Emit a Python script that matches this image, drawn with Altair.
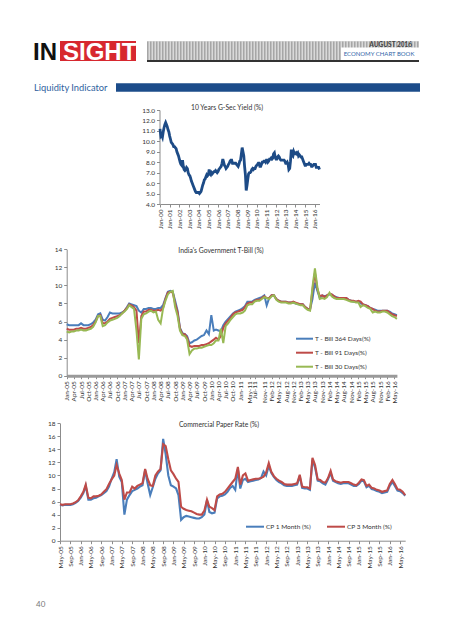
import altair as alt
import pandas as pd

# ------------------------------------------------------------------ data
# 10 Years G-Sec Yield (%), monthly, Jan-2000 .. Jul-2016
gsec_values = [
    11.2, 10.5, 10.6, 10.4, 10.9, 11.3, 11.6, 11.8, 11.6, 11.4, 11.1, 10.9,
    10.5, 10.2, 9.9, 9.8, 9.7, 9.5, 9.5, 9.4, 9.3, 9.0, 8.8, 8.6,
    8.3, 8.0, 7.8, 7.7, 8.2, 7.6, 7.3, 7.2, 7.3, 7.5, 7.4, 7.0,
    6.8, 6.7, 6.5, 6.2, 6.0, 5.8, 5.6, 5.4, 5.2, 5.1, 5.1, 5.1,
    5.1, 5.0, 5.1, 5.2, 5.5, 5.8, 6.0, 6.3, 6.4, 6.6, 6.8, 6.7,
    6.8, 7.3, 6.9, 6.8, 7.0, 6.9, 7.0, 7.1, 7.1, 7.2, 7.1, 7.0,
    7.1, 7.3, 7.4, 7.5, 7.6, 7.9, 8.3, 8.0, 7.7, 7.6, 7.4, 7.5,
    7.6, 7.8, 7.9, 8.1, 8.2, 8.2, 7.9, 7.9, 7.9, 7.9, 7.9, 7.8,
    7.7, 7.6, 7.8, 8.1, 8.2, 8.8, 9.4, 9.0, 8.6, 7.6, 6.8, 5.3,
    5.8, 6.4, 6.9, 7.0, 7.0, 7.1, 7.3, 7.4, 7.3, 7.4, 7.4, 7.6,
    7.7, 7.8, 7.9, 7.9, 7.6, 7.6, 7.8, 8.0, 8.0, 8.1, 8.1, 8.0,
    8.2, 8.2, 8.0, 8.1, 8.3, 8.3, 8.4, 8.3, 8.4, 8.8, 8.9, 8.5,
    8.3, 8.3, 8.5, 8.6, 8.5, 8.3, 8.2, 8.2, 8.2, 8.2, 8.2, 8.1,
    7.9, 7.9, 8.0, 7.8, 7.3, 7.4, 8.1, 9.2, 8.7, 8.6, 9.0, 8.8,
    8.8, 8.9, 8.8, 8.9, 8.6, 8.7, 8.6, 8.5, 8.5, 8.3, 8.1, 7.9,
    7.7, 7.7, 7.8, 7.8, 7.8, 7.9, 7.8, 7.8, 7.6, 7.6, 7.7, 7.8,
    7.8, 7.8, 7.5, 7.5, 7.5, 7.5, 7.3,
]
gsec_ticks = ["Jan-00", "Jan-01", "Jan-02", "Jan-03", "Jan-04", "Jan-05",
              "Jan-06", "Jan-07", "Jan-08", "Jan-09", "Jan-10", "Jan-11",
              "Jan-12", "Jan-13", "Jan-14", "Jan-15", "Jan-16"]

# India's Government T-Bill (%), monthly, Jan-2005 .. Jun-2016
tbill_names = ["T - Bill 364 Days(%)", "T - Bill 91 Days(%)", "T - Bill 30 Days(%)"]
tbill_364 = [
    5.7, 5.6, 5.6, 5.6, 5.6, 5.6, 5.8, 5.6, 5.6, 5.6, 5.7, 5.9,
    6.2, 6.8, 6.9, 6.2, 6.1, 6.5, 7.0, 6.9, 6.9, 6.9, 6.9, 7.0,
    7.2, 7.6, 8.0, 7.9, 7.8, 7.7, 7.2, 7.0, 7.4, 7.4, 7.5, 7.5,
    7.4, 7.4, 7.5, 7.5, 7.8, 8.6, 9.3, 9.4, 9.3, 8.3, 7.2, 5.3,
    4.7, 4.6, 4.4, 3.6, 3.7, 3.9, 4.0, 4.2, 4.4, 4.5, 5.0, 4.6,
    6.7, 5.0, 5.1, 5.0, 4.9, 5.6, 6.0, 6.3, 6.6, 6.9, 7.1, 7.2,
    7.3, 7.5, 7.7, 8.2, 8.2, 8.2, 8.4, 8.5, 8.6, 8.7, 8.9, 7.8,
    8.6, 8.9, 8.9, 8.5, 8.3, 8.2, 8.2, 8.2, 8.1, 8.1, 8.1, 8.0,
    7.9, 7.9, 7.9, 7.6, 7.4, 7.4, 8.5, 10.3, 9.4, 8.6, 8.9, 8.8,
    8.9, 9.0, 9.0, 8.8, 8.7, 8.6, 8.6, 8.6, 8.6, 8.4, 8.3, 8.2,
    8.2, 8.2, 8.0, 7.9, 7.8, 7.7, 7.5, 7.4, 7.3, 7.2, 7.2, 7.2,
    7.2, 7.2, 7.1, 6.9, 6.8, 6.7,
]
tbill_91 = [
    5.2, 5.1, 5.1, 5.1, 5.2, 5.2, 5.3, 5.2, 5.2, 5.3, 5.4, 5.6,
    6.0, 6.6, 6.7, 5.8, 5.8, 6.0, 6.3, 6.4, 6.5, 6.6, 6.7, 6.9,
    7.2, 7.5, 7.9, 7.8, 7.6, 7.2, 3.6, 6.6, 7.1, 7.1, 7.3, 7.3,
    7.2, 7.2, 7.3, 7.2, 7.5, 8.5, 9.2, 9.3, 9.2, 8.0, 7.0, 5.2,
    4.6, 4.6, 4.2, 3.3, 3.2, 3.3, 3.3, 3.3, 3.4, 3.4, 3.5, 3.6,
    3.8, 4.0, 4.2, 4.0, 4.4, 5.3, 5.8, 6.1, 6.4, 6.8, 7.0, 7.1,
    7.2, 7.3, 7.6, 8.0, 8.1, 8.1, 8.3, 8.4, 8.4, 8.6, 8.8, 8.6,
    8.6, 8.9, 8.9, 8.5, 8.3, 8.2, 8.2, 8.2, 8.1, 8.1, 8.2, 8.1,
    8.0, 7.9, 7.9, 7.6, 7.4, 7.3, 9.5, 11.4, 9.6, 8.8, 8.9, 8.7,
    8.9, 9.1, 9.0, 8.8, 8.6, 8.6, 8.6, 8.6, 8.6, 8.4, 8.3, 8.3,
    8.2, 8.3, 8.2, 7.9, 7.8, 7.7, 7.5, 7.4, 7.2, 7.1, 7.1, 7.2,
    7.2, 7.2, 7.0, 6.8, 6.7, 6.6,
]
tbill_30 = [
    4.9, 4.8, 4.9, 4.9, 5.0, 5.0, 5.1, 5.0, 5.0, 5.1, 5.2, 5.4,
    5.9, 6.6, 6.6, 5.5, 5.6, 5.9, 6.1, 6.2, 6.3, 6.4, 6.6, 6.9,
    7.1, 7.4, 7.8, 7.6, 7.4, 5.0, 1.8, 6.3, 6.8, 6.9, 7.1, 7.2,
    7.0, 7.1, 6.2, 5.8, 7.4, 8.3, 9.0, 9.3, 9.4, 7.6, 6.6, 5.0,
    4.5, 4.4, 4.0, 2.4, 2.8, 3.0, 3.0, 3.1, 3.1, 3.2, 3.3, 3.4,
    3.4, 3.6, 3.9, 3.9, 5.2, 3.6, 5.5, 5.8, 6.2, 6.5, 6.8, 6.9,
    6.9, 7.0, 7.2, 7.8, 7.9, 7.9, 8.2, 8.3, 8.3, 8.5, 8.7, 8.6,
    8.5, 8.8, 8.9, 8.4, 8.2, 8.1, 8.1, 8.1, 8.0, 8.0, 8.1, 8.0,
    7.9, 7.8, 7.8, 7.5, 7.3, 7.2, 9.8, 11.9, 9.8, 8.5, 8.6, 8.5,
    8.7, 9.2, 8.8, 8.6, 8.5, 8.5, 8.5, 8.5, 8.4, 8.3, 8.2, 8.2,
    8.1, 8.1, 7.6, 7.8, 7.7, 7.5, 7.4, 7.0, 7.1, 7.0, 7.0, 7.1,
    7.1, 7.0, 6.8, 6.6, 6.5, 6.3,
]
tbill_ticks = ["Jan-05", "Apr-05", "Jul-05", "Oct-05", "Jan-06", "Apr-06",
               "Jul-06", "Oct-06", "Jan-07", "Apr-07", "Jul-07", "Oct-07",
               "Jan-08", "Apr-08", "Jul-08", "Oct-08", "Jan-09", "Apr-09",
               "Jul-09", "Oct-09", "Jan-10", "Apr-10", "Jul-10", "Oct-10",
               "Jan-11", "May-11", "Jul-11", "Nov-11", "Feb-12", "May-12",
               "Aug-12", "Nov-12", "Feb-13", "May-13", "Aug-13", "Nov-13",
               "Feb-14", "May-14", "Aug-14", "Nov-14", "Feb-15", "May-15",
               "Aug-15", "Nov-15", "Feb-16", "May-16"]

# Commercial Paper Rate (%), monthly, May-2005 .. Jul-2016
cp_names = ["CP 1 Month (%)", "CP 3 Month (%)"]
cp_1m = [
    5.5, 5.4, 5.5, 5.5, 5.5, 5.6, 5.8, 6.1,
    6.6, 7.3, 8.4, 6.3, 6.3, 6.5, 6.6, 6.8, 7.0, 7.3, 7.6, 8.3,
    9.5, 10.5, 12.5, 9.8, 9.0, 4.0, 6.3, 7.0, 7.6, 7.8, 8.0, 8.3,
    8.5, 10.8, 8.8, 7.0, 8.2, 9.5, 10.3, 10.8, 15.6, 13.2, 10.0, 8.5,
    8.3, 8.0, 7.0, 3.2, 3.6, 3.8, 3.7, 3.6, 3.5, 3.4, 3.4, 3.6,
    4.0, 6.2, 4.4, 4.2, 4.3, 6.5, 6.8, 6.9, 7.1, 7.5, 8.1, 8.4,
    7.8, 11.0, 8.0, 9.3, 9.5, 9.0, 9.1, 9.2, 9.3, 9.4, 9.6, 10.6,
    10.0, 11.5, 10.4, 9.8, 9.3, 9.0, 8.8, 8.5, 8.4, 8.4, 8.4, 8.5,
    8.6, 9.9, 8.1, 8.0, 8.0, 7.8, 12.4, 11.2, 9.2, 9.1, 8.8, 8.6,
    9.4, 10.4, 9.2, 9.0, 8.8, 8.7, 8.8, 8.8, 8.8, 8.6, 8.4, 8.4,
    8.7, 9.2, 9.1, 8.2, 8.4, 7.9, 7.8, 7.6, 7.5, 7.3, 7.4, 7.5,
    8.4, 9.0, 8.4, 7.7, 7.6, 7.3, 6.9,
]
cp_3m = [
    5.6, 5.5, 5.6, 5.6, 5.6, 5.7, 5.9, 6.2,
    6.8, 7.5, 8.6, 6.6, 6.5, 6.8, 6.8, 6.9, 7.1, 7.5, 7.9, 8.7,
    9.4, 10.0, 11.6, 10.3, 9.3, 6.3, 7.4, 7.4, 8.3, 8.0, 8.4, 8.6,
    8.8, 11.0, 9.5, 8.5, 8.4, 10.0, 10.6, 11.0, 14.8, 14.5, 12.5, 10.8,
    10.2, 9.5, 9.0, 5.2, 4.9, 4.7, 4.6, 4.5, 4.3, 4.1, 4.0, 4.0,
    4.6, 6.3, 5.2, 5.0, 4.7, 6.8, 7.1, 7.2, 7.5, 8.0, 8.5, 9.0,
    9.5, 11.3, 8.6, 10.0, 10.3, 9.2, 9.3, 9.4, 9.5, 9.5, 9.6, 9.8,
    10.5, 11.9, 10.6, 9.9, 9.5, 9.2, 9.0, 8.7, 8.6, 8.6, 8.6, 8.7,
    8.8, 10.1, 8.3, 8.2, 8.2, 8.0, 12.7, 11.6, 9.4, 9.3, 9.0, 8.9,
    9.6, 10.7, 9.4, 9.1, 9.0, 8.9, 9.0, 9.0, 9.0, 8.8, 8.6, 8.5,
    8.9, 9.4, 9.3, 8.4, 8.6, 8.1, 8.0, 7.8, 7.7, 7.5, 7.6, 7.7,
    8.7, 9.3, 8.7, 7.9, 7.8, 7.5, 7.0,
]
cp_ticks = ["May-05", "Sep-05", "Jan-06", "May-06", "Sep-06", "Jan-07",
            "May-07", "Sep-07", "Jan-08", "May-08", "Sep-08", "Jan-09",
            "May-09", "Sep-09", "Jan-10", "May-10", "Sep-10", "Jan-11",
            "May-11", "Sep-11", "Jan-12", "May-12", "Sep-12", "Jan-13",
            "May-13", "Sep-13", "Jan-14", "May-14", "Sep-14", "Jan-15",
            "May-15", "Sep-15", "Jan-16", "May-16"]

# ------------------------------------------------------------------ layout helpers
W, H = 437, 624
OFF = 8


def V(p):
    return p - OFF


def dt(label):
    d = pd.to_datetime(label, format="%b-%y")
    return alt.DateTime(year=int(d.year), month=int(d.month), date=1, utc=True)


def months(start, n):
    return pd.date_range(start, periods=n, freq="MS").strftime("%Y-%m-%d")


FONT = "Lato"
AX = dict(domainColor="#8c8c8c", tickColor="#8c8c8c", tickSize=3,
          labelFont=FONT, labelFontSize=6.5, labelColor="#333333",
          labelPadding=2, grid=False, labelOverlap=False, labelFlush=False,
          title=None)

blank = pd.DataFrame({"k": [0]})


def rect(x1, y1, x2, y2, color):
    return alt.Chart(blank).mark_rect(color=color).encode(
        x=alt.value(V(x1)), x2=alt.value(V(x2)),
        y=alt.value(V(y1)), y2=alt.value(V(y2)))


def text(s, x, y, size, color="#222222", align="left", weight="normal",
         baseline="alphabetic", font=FONT):
    return alt.Chart(blank).mark_text(
        text=s, align=align, baseline=baseline, font=font, fontSize=size,
        fontWeight=weight, color=color).encode(x=alt.value(V(x)), y=alt.value(V(y)))


# ------------------------------------------------------------------ header
header = [
    rect(60, 41, 136, 61, "#d7282f"),
    text("IN", 33, 59.5, 24, color="#111111", weight="bold", font="Liberation Sans"),
    text("SIGHT", 63, 59.5, 24, color="#ffffff", weight="bold", font="Liberation Sans"),
    rect(147, 41, 419, 61, "#d9d9d9"),
    alt.Chart(blank).mark_rule(color="#a6a6a6", strokeWidth=19, strokeDash=[1.5, 1.5]).encode(
        x=alt.value(V(147)), x2=alt.value(V(419)), y=alt.value(V(51))),
    rect(147, 60, 419, 62, "#333333"),
    rect(341, 47.5, 419.5, 60, "#ffffff"),
    text("AUGUST 2016", 412, 47.3, 6.5, color="#444444", align="right", weight="bold"),
    text("ECONOMY CHART BOOK", 379, 56.2, 6, color="#2f66a8", align="center"),
    text("Liquidity Indicator", 34, 91, 9.3, color="#2f5f9e"),
    rect(116, 83.3, 420, 91.7, "#1c4c8a"),
    text("10 Years G-Sec Yield (%)", 227, 110, 6.8, color="#333333", align="center"),
    text("India's Government T-Bill (%)", 221, 253, 6.8, color="#333333", align="center"),
    text("Commercial Paper Rate (%)", 219, 427, 6.8, color="#333333", align="center"),
    text("40", 36, 607, 8, color="#777777"),
]

# ------------------------------------------------------------------ G-Sec chart
gsec_df = pd.DataFrame({"date": months("2000-01-01", len(gsec_values)), "value": gsec_values})
gsec = alt.Chart(gsec_df).mark_line(color="#1d4b86", strokeWidth=2.8).encode(
    x=alt.X("date:T",
            scale=alt.Scale(type="utc", domain=[dt("Jan-00"), dt("Jul-16")],
                            range=[V(160), V(319.5)]),
            axis=alt.Axis(orient="bottom", offset=V(204) - H,
                          values=[dt(t) for t in gsec_ticks], format="%b-%y",
                          labelAngle=-90, **AX)),
    y=alt.Y("value:Q",
            scale=alt.Scale(domain=[4, 13], range=[V(204), V(110)], nice=False, zero=False),
            axis=alt.Axis(orient="left", offset=-V(159.5), values=list(range(4, 14)),
                          format=".1f", **AX)),
)

# ------------------------------------------------------------------ T-Bill chart
tb_dates = months("2005-01-01", len(tbill_364))
tbill_df = pd.concat([
    pd.DataFrame({"date": tb_dates, "value": vals, "series": name})
    for name, vals in zip(tbill_names, [tbill_364, tbill_91, tbill_30])
], ignore_index=True)
tbill_ax = dict(AX)
tbill_ax.update(domainColor="#9a9a9a", domainWidth=3)
tbill = alt.Chart(tbill_df).mark_line(strokeWidth=2).encode(
    x=alt.X("date:T",
            scale=alt.Scale(type="utc", domain=[dt("Jan-05"), dt("Jun-16")],
                            range=[V(66.7), V(396.9)]),
            axis=alt.Axis(orient="bottom", offset=V(375.7) - H,
                          values=[dt(t) for t in tbill_ticks], format="%b-%y",
                          labelAngle=-90, **tbill_ax)),
    y=alt.Y("value:Q",
            scale=alt.Scale(domain=[0, 14], range=[V(375.7), V(249.3)], nice=False),
            axis=alt.Axis(orient="left", offset=-V(66.7), values=list(range(0, 15, 2)),
                          format="d", **AX)),
    color=alt.Color("series:N",
                    scale=alt.Scale(domain=tbill_names,
                                    range=["#4a7ebb", "#be4b48", "#98b954"]),
                    legend=alt.Legend(orient="none", legendX=V(295), legendY=V(329.2),
                                      title=None, symbolType="stroke", symbolSize=289,
                                      symbolStrokeWidth=2, labelFont=FONT,
                                      labelFontSize=6.5, labelColor="#333333",
                                      rowPadding=-4, labelOffset=1, padding=0,
                                      direction="vertical")),
)

# ------------------------------------------------------------------ CP chart
cp_dates = months("2005-05-01", len(cp_1m))
cp_df = pd.concat([
    pd.DataFrame({"date": cp_dates, "value": vals, "series": name})
    for name, vals in zip(cp_names, [cp_1m, cp_3m])
], ignore_index=True)
cp = alt.Chart(cp_df).mark_line(strokeWidth=2.1).encode(
    x=alt.X("date:T",
            scale=alt.Scale(type="utc", domain=[dt("May-05"), dt("Jul-16")],
                            range=[V(60), V(405.2)]),
            axis=alt.Axis(orient="bottom", offset=V(540.7) - H,
                          values=[dt(t) for t in cp_ticks], format="%b-%y",
                          labelAngle=-90, **AX)),
    y=alt.Y("value:Q",
            scale=alt.Scale(domain=[0, 18], range=[V(540.7), V(423.3)], nice=False),
            axis=alt.Axis(orient="left", offset=-V(60), values=list(range(0, 19, 2)),
                          format="d", **AX)),
    color=alt.Color("series:N",
                    scale=alt.Scale(domain=cp_names, range=["#4a7ebb", "#be4b48"]),
                    legend=alt.Legend(orient="none", legendX=V(245), legendY=V(516.7),
                                      title=None, symbolType="stroke", symbolSize=324,
                                      symbolStrokeWidth=2, labelFont=FONT,
                                      labelFontSize=6.5, labelColor="#333333",
                                      labelOffset=1, padding=0, columnPadding=12,
                                      direction="horizontal")),
)

chart = alt.layer(*header, gsec, tbill, cp).resolve_scale(
    x="independent", y="independent", color="independent"
).properties(
    width=W, height=H, padding=0,
    autosize=alt.AutoSizeParams(type="none"),
).configure_view(stroke=None)

chart.save("out.html", embed_options={"renderer": "svg", "actions": False})
